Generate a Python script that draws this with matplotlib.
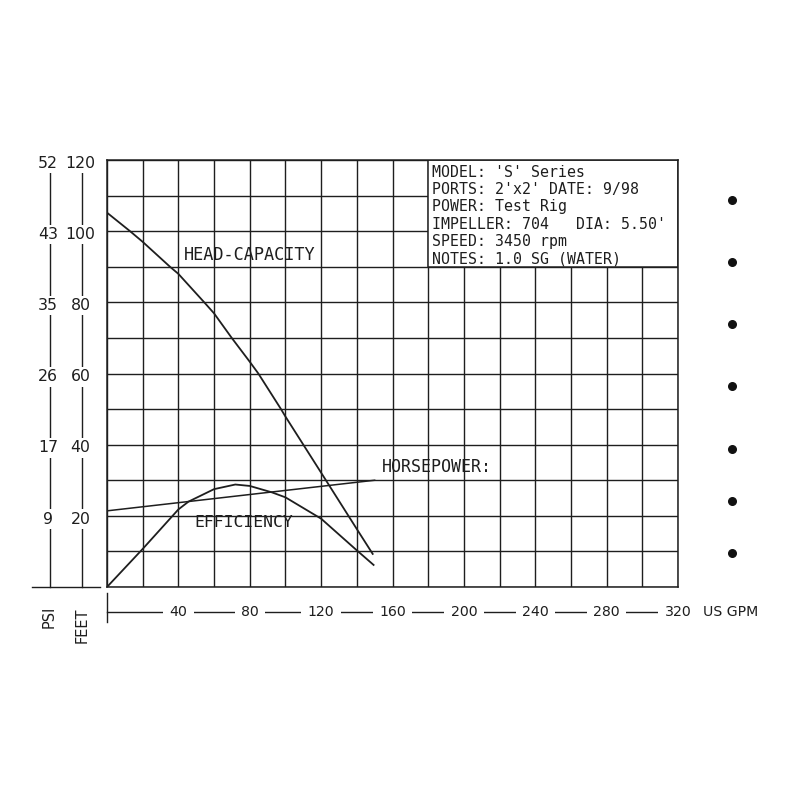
import matplotlib
matplotlib.use("Agg")
import matplotlib.pyplot as plt
import matplotlib.transforms as mtransforms
from matplotlib.patches import Rectangle

# ---------------- data ----------------
head_gpm = [0, 12.9, 20, 35.3, 40, 54.5, 60, 69.9, 80, 84.8, 97.5, 100, 119.4, 139.6, 148.9]
head_ft = [105.2, 100.0, 97.0, 90.0, 88.0, 80.0, 76.9, 70.0, 63.3, 60.0, 50.0, 47.9, 32.6, 16.6, 9.3]

eff_gpm = [0, 20, 40, 45.7, 60, 71.9, 80, 92.4, 100, 120, 140, 149.4]
eff_ft = [0, 10.7, 21.8, 24.0, 27.5, 28.8, 28.4, 26.6, 25.2, 19.2, 10.3, 6.2]

hp_gpm = [0, 139.4, 150]
hp_ft = [21.4, 29.4, 30.0]

x_ticks = [40, 80, 120, 160, 200, 240, 280, 320]
x_tick_labels = ["40", "80", "120", "160", "200", "240", "280", "320"]
feet_ticks = [120, 100, 80, 60, 40, 20]
feet_labels = ["120", "100", "80", "60", "40", "20"]
psi_labels = ["52", "43", "35", "26", "17", "9"]

info_lines = [
    "MODEL: 'S' Series",
    "PORTS: 2'x2' DATE: 9/98",
    "POWER: Test Rig",
    "IMPELLER: 704   DIA: 5.50'",
    "SPEED: 3450 rpm",
    "NOTES: 1.0 SG (WATER)",
]

# ---------------- style ----------------
INK = "#1e1e1e"
mono = "DejaVu Sans Mono"
sans = "DejaVu Sans"

fig = plt.figure(figsize=(8, 8), dpi=100)
fig.patch.set_facecolor("white")

ax = fig.add_axes([107 / 800, 1 - 587 / 800, 571 / 800, 427 / 800])
ax.set_xlim(0, 320)
ax.set_ylim(0, 120)
ax.set_xticks(range(0, 321, 20))
ax.set_yticks(range(0, 121, 10))
ax.tick_params(length=0, labelbottom=False, labelleft=False)
ax.grid(True, color=INK, linewidth=1.0)
ax.set_axisbelow(True)
for s in ax.spines.values():
    s.set_color(INK)
    s.set_linewidth(1.1)

# info box over the grid
ax.add_patch(Rectangle((180, 90), 140, 30, facecolor="white", edgecolor=INK,
                       linewidth=1.1, zorder=2))
for i, line in enumerate(info_lines):
    ax.text(182, 116.6 - 4.9 * i, line, family=mono, fontsize=10.7, color=INK,
            va="center", ha="left", zorder=3)

# curves
ax.plot(head_gpm, head_ft, color=INK, linewidth=1.3, zorder=4, solid_joinstyle="round")
ax.plot(eff_gpm, eff_ft, color=INK, linewidth=1.3, zorder=4, solid_joinstyle="round")
ax.plot(hp_gpm, hp_ft, color=INK, linewidth=1.1, zorder=4, solid_joinstyle="round")

ax.text(43.2, 93.3, "HEAD-CAPACITY", family=mono, fontsize=12.2, color=INK,
        va="center", ha="left", zorder=5)
ax.text(48.8, 18.0, "EFFICIENCY", family=mono, fontsize=11.8, color=INK,
        va="center", ha="left", zorder=5)
ax.text(154, 33.7, "HORSEPOWER:", family=mono, fontsize=12.0, color=INK,
        va="center", ha="left", zorder=5)

# ---------------- left scales (PSI / FEET) ----------------
ty = mtransforms.blended_transform_factory(ax.transAxes, ax.transData)
x_psi, x_feet = -0.1005, -0.0435
for xl in (x_psi, x_feet):
    ax.plot([xl, xl], [feet_ticks[0], 0], transform=ty, color=INK,
            linewidth=1.0, clip_on=False)
ax.plot([-0.1313, -0.0123], [0, 0], transform=ty, color=INK, linewidth=1.0,
        clip_on=False)
for ft, fl, pl in zip(feet_ticks, feet_labels, psi_labels):
    ax.text(x_feet - 0.003, ft - 0.9, fl, transform=ty, family=sans, fontsize=11.3,
            color=INK, ha="center", va="center",
            bbox=dict(boxstyle="square,pad=0.15", facecolor="white", edgecolor="none"))
    ax.text(x_psi - 0.003, ft - 0.9, pl, transform=ty, family=sans, fontsize=11.3,
            color=INK, ha="center", va="center",
            bbox=dict(boxstyle="square,pad=0.15", facecolor="white", edgecolor="none"))
ax.text(-0.1016, -0.0703, "PSI", transform=ax.transAxes, rotation=90,
        family=sans, fontsize=10.5, color=INK, ha="center", va="center")
ax.text(-0.0438, -0.089, "FEET", transform=ax.transAxes, rotation=90,
        family=sans, fontsize=10.5, color=INK, ha="center", va="center")

# ---------------- bottom scale (US GPM) ----------------
tx = mtransforms.blended_transform_factory(ax.transData, ax.transAxes)
ax.plot([0, 0], [-0.014, -0.0813], transform=tx, color=INK, linewidth=1.0,
        clip_on=False)
ax.plot([0, x_ticks[-1]], [-0.0578, -0.0578], transform=tx, color=INK,
        linewidth=1.0, clip_on=False)
for xv, xl in zip(x_ticks, x_tick_labels):
    ax.text(xv, -0.0578, xl, transform=tx, family=sans, fontsize=10.2,
            color=INK, ha="center", va="center",
            bbox=dict(boxstyle="square,pad=0.45", facecolor="white", edgecolor="none"))
ax.text(334, -0.0578, "US GPM", transform=tx, family=sans, fontsize=10.2,
        color=INK, ha="left", va="center")

# ---------------- decorative punch dots at right ----------------
deco = fig.add_axes([0, 0, 1, 1], zorder=-1)
deco.set_xlim(0, 800)
deco.set_ylim(800, 0)
deco.axis("off")
deco.scatter([732] * 7, [200, 262, 324, 386, 449, 501, 553], s=30, color="#111111")

fig.savefig("out.png", dpi=100, facecolor="white")
